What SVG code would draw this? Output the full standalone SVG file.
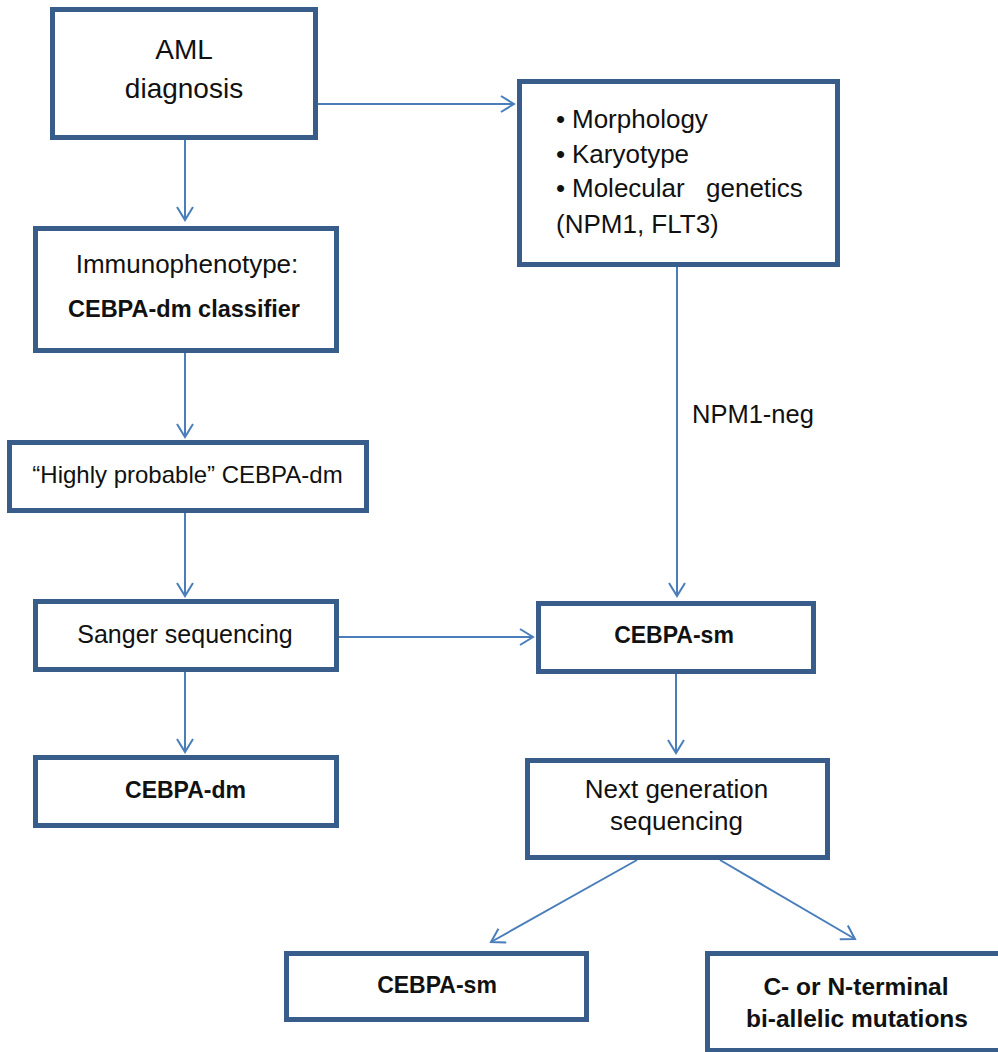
<svg xmlns="http://www.w3.org/2000/svg" width="998" height="1052" viewBox="0 0 998 1052">
<style>
.box{fill:#ffffff;stroke:#385D8A;stroke-width:5}
.con{fill:none;stroke:#4A7EBB;stroke-width:2}
text{font-family:"Liberation Sans",Arial,sans-serif;fill:#111111}
.c{text-anchor:middle}
.b{font-weight:bold}
</style>
<defs>
<marker id="arr" viewBox="-15 -10 20 20" refX="0" refY="0" markerWidth="20" markerHeight="20" markerUnits="userSpaceOnUse" orient="auto">
<path d="M-13,-8 L0,0 L-13,8" fill="none" stroke="#4A7EBB" stroke-width="2"/>
</marker>
</defs>
<rect width="998" height="1052" fill="#ffffff"/>
<g id="connectors">
<line class="con" x1="185" y1="140" x2="185" y2="220" marker-end="url(#arr)"/>
<line class="con" x1="318" y1="104" x2="514" y2="104" marker-end="url(#arr)"/>
<line class="con" x1="185" y1="353" x2="185" y2="437" marker-end="url(#arr)"/>
<line class="con" x1="185" y1="513" x2="185" y2="596" marker-end="url(#arr)"/>
<line class="con" x1="185" y1="672" x2="185" y2="752" marker-end="url(#arr)"/>
<line class="con" x1="339" y1="637" x2="533" y2="637" marker-end="url(#arr)"/>
<line class="con" x1="677" y1="267" x2="677" y2="596" marker-end="url(#arr)"/>
<text x="692" y="423" font-size="25.5">NPM1-neg</text>
<line class="con" x1="676" y1="674" x2="676" y2="753" marker-end="url(#arr)"/>
<line class="con" x1="637" y1="860" x2="491" y2="942" marker-end="url(#arr)"/>
<line class="con" x1="720" y1="860" x2="855" y2="939" marker-end="url(#arr)"/>
</g>
<g id="aml">
<rect class="box" x="52.5" y="9.5" width="263" height="128"/>
<text class="c" x="184" y="59" font-size="28">AML</text>
<text class="c" x="184" y="98" font-size="28">diagnosis</text>
</g>
<g id="immuno">
<rect class="box" x="35.5" y="228.5" width="301" height="122"/>
<text class="c" x="187" y="273" font-size="26">Immunophenotype:</text>
<text class="c b" x="184" y="317" font-size="23.5">CEBPA-dm classifier</text>
</g>
<g id="morph">
<rect class="box" x="519.5" y="81.5" width="318" height="183"/>
<text x="556" y="128" font-size="26">•</text>
<text x="572" y="128" font-size="26">Morphology</text>
<text x="556" y="163" font-size="26">•</text>
<text x="572" y="163" font-size="26">Karyotype</text>
<text x="556" y="197" font-size="26">•</text>
<text x="572" y="197" font-size="26">Molecular</text>
<text x="706" y="197" font-size="26">genetics</text>
<text x="556" y="233" font-size="26">(NPM1, FLT3)</text>
</g>
<g id="highly">
<rect class="box" x="9.5" y="442.5" width="357" height="68"/>
<text class="c" x="187.5" y="483" font-size="24">“Highly probable” CEBPA-dm</text>
</g>
<g id="sanger">
<rect class="box" x="35.5" y="601.5" width="301" height="68"/>
<text class="c" x="185" y="643" font-size="25">Sanger sequencing</text>
</g>
<g id="cebpadm">
<rect class="box" x="35.5" y="757.5" width="301" height="68"/>
<text class="c b" x="185.5" y="798" font-size="23">CEBPA-dm</text>
</g>
<g id="cebpasm1">
<rect class="box" x="538.5" y="603.5" width="275" height="68"/>
<text class="c b" x="674" y="643" font-size="23">CEBPA-sm</text>
</g>
<g id="ngs">
<rect class="box" x="527.5" y="760.5" width="300" height="97"/>
<text class="c" x="676.5" y="798" font-size="26">Next generation</text>
<text class="c" x="676.5" y="830" font-size="26">sequencing</text>
</g>
<g id="cebpasm2">
<rect class="box" x="286.5" y="953.5" width="300" height="66"/>
<text class="c b" x="437" y="993" font-size="23">CEBPA-sm</text>
</g>
<g id="biallelic">
<rect class="box" x="707.5" y="953.5" width="300" height="97"/>
<text class="c b" x="856" y="995" font-size="24.5">C- or N-terminal</text>
<text class="c b" x="857" y="1027" font-size="24.5">bi-allelic mutations</text>
</g>
</svg>
